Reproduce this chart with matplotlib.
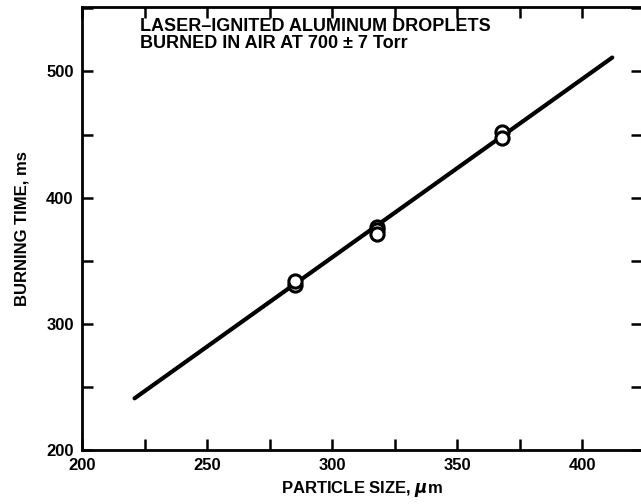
import numpy as np
from matplotlib import pyplot as plt
from matplotlib.ticker import MultipleLocator

# measured droplets
size_um = [285, 285, 318, 318, 318, 368, 368]
burn_ms = [331, 334, 377, 374, 371, 452, 447]

# fitted line end points
fit_x = [221, 412]
fit_y = [241, 511]

plt.rcParams['font.family'] = ['Liberation Sans', 'DejaVu Sans']
plt.rcParams['font.weight'] = 'bold'

fig = plt.figure(figsize=(6.41, 5.04), dpi=100)
ax = fig.add_axes([0.128, 0.107, 0.874, 0.879])

ax.plot(fit_x, fit_y, color='black', lw=3, solid_capstyle='round', zorder=2)
ax.plot(size_um, burn_ms, 'o', ms=9.5, mfc='white', mec='black', mew=2.2, zorder=3)

ax.set_xlim(200, 424)
ax.set_ylim(200, 551)
ax.xaxis.set_major_locator(MultipleLocator(50))
ax.xaxis.set_minor_locator(MultipleLocator(25))
ax.yaxis.set_major_locator(MultipleLocator(100))
ax.yaxis.set_minor_locator(MultipleLocator(50))

ax.tick_params(which='both', direction='in', top=True, right=True, width=1.8,
               labelsize=12, pad=6)
ax.tick_params(which='major', length=8)
ax.tick_params(which='minor', length=8)
for s in ax.spines.values():
    s.set_linewidth(2)

ax.set_xlabel('PARTICLE SIZE, $\\mu$m', fontsize=12, fontweight='bold', labelpad=4)
ax.set_ylabel('BURNING TIME, ms', fontsize=12, fontweight='bold', labelpad=12)

ax.text(223, 542, 'LASER\u2013IGNITED ALUMINUM DROPLETS\nBURNED IN AIR AT 700 \u00b1 7 Torr',
        fontsize=13, fontweight='bold', va='top', ha='left', linespacing=0.95)

plt.savefig('out.png', dpi=100)
